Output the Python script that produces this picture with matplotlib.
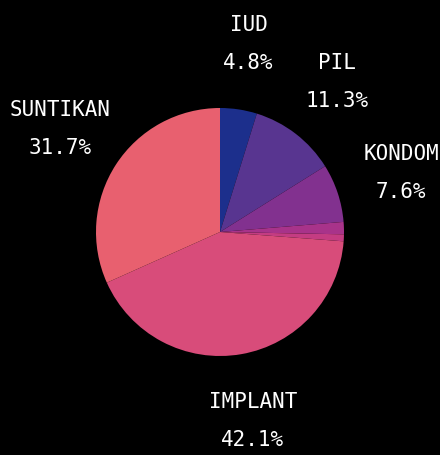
import numpy as np
import matplotlib
matplotlib.use("Agg")
import matplotlib.pyplot as plt

# Data (percent of users per contraceptive method)
metode = ["IUD", "PIL", "KONDOM", "MOW", "MOP", "IMPLANT", "SUNTIKAN"]
persen = [4.8, 11.3, 7.6, 1.6, 0.9, 42.1, 31.7]
warna = ["#1c2f8c", "#583590", "#82318f", "#a8338a", "#c43c82", "#d84c7a", "#e8606f"]

plt.rcParams["font.family"] = ["DejaVu Sans Mono"]

fig = plt.figure(figsize=(4.4, 4.56), dpi=100, facecolor="black")
ax = fig.add_axes([0, 0, 1, 1])
ax.set_facecolor("black")

wedges, _ = ax.pie(persen, colors=warna, startangle=90, counterclock=False,
                   radius=1.0, wedgeprops=dict(linewidth=0))

# labels: name on top, percentage below, centred outside each wedge
for w, nama, p in zip(wedges, metode, persen):
    if p < 2:
        continue
    ang = np.deg2rad((w.theta1 + w.theta2) / 2)
    d = 1.54
    ax.text(d * np.cos(ang), d * np.sin(ang), f"{nama}\n{p:.1f}%",
            ha="center", va="center", color="white", fontsize=15,
            linespacing=2.15, clip_on=False)

# put the pie centre at (220, 233) px with radius 124 px
r_px = 124
ax.set_xlim(-220 / r_px, 220 / r_px)
ax.set_ylim(-(456 - 233) / r_px, 233 / r_px)
ax.set_aspect("auto")
ax.axis("off")

plt.savefig("out.png", dpi=100, facecolor="black")
plt.close()
